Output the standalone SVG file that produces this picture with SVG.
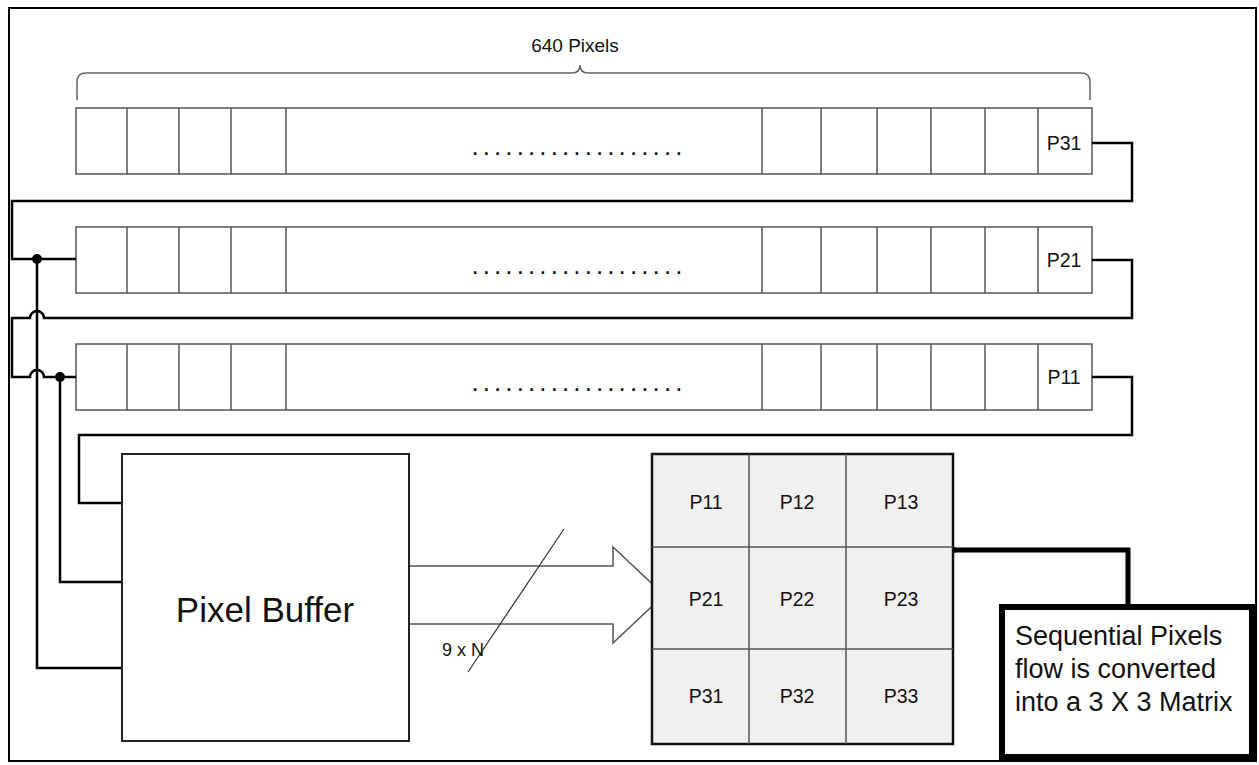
<svg xmlns="http://www.w3.org/2000/svg" width="1259" height="765" viewBox="0 0 1259 765">
<defs>
<style>
.frame{fill:none;stroke:#000;stroke-width:2}
.cell{fill:#fff;stroke:#555;stroke-width:1.5}
.div{stroke:#555;stroke-width:1.5}
.wire{fill:none;stroke:#000;stroke-width:2.5}
.bold{fill:none;stroke:#000;stroke-width:5}
.t{font-family:"Liberation Sans",Arial,sans-serif;fill:#111}
.lbl{font-size:19.5px;text-anchor:middle}
.dots{font-size:26px;letter-spacing:4.1px}
</style>
<g id="rowcells">
<rect class="cell" x="76" y="0" width="1016" height="66"/>
<line class="div" x1="127" y1="0" x2="127" y2="66"/>
<line class="div" x1="179" y1="0" x2="179" y2="66"/>
<line class="div" x1="231" y1="0" x2="231" y2="66"/>
<line class="div" x1="286" y1="0" x2="286" y2="66"/>
<line class="div" x1="762" y1="0" x2="762" y2="66"/>
<line class="div" x1="821" y1="0" x2="821" y2="66"/>
<line class="div" x1="877" y1="0" x2="877" y2="66"/>
<line class="div" x1="931" y1="0" x2="931" y2="66"/>
<line class="div" x1="985" y1="0" x2="985" y2="66"/>
<line class="div" x1="1038" y1="0" x2="1038" y2="66"/>
<text class="t dots" x="471.4" y="47">...................</text>
</g>
</defs>

<rect class="frame" x="9" y="8" width="1247" height="753"/>

<g id="width-brace">
<path d="M77,100 V82 Q77,73 86,73 H572 Q580,73 580,65 Q580,73 588,73 H1081 Q1090,73 1090,82 V100" fill="none" stroke="#666" stroke-width="1.5"/>
<text class="t" x="575" y="52" font-size="19" text-anchor="middle">640 Pixels</text>
</g>

<g id="row1">
<use href="#rowcells" y="108"/>
<text class="t lbl" x="1064" y="150">P31</text>
</g>
<g id="row2">
<use href="#rowcells" y="227"/>
<text class="t lbl" x="1064" y="267">P21</text>
</g>
<g id="row3">
<use href="#rowcells" y="344"/>
<text class="t lbl" x="1064" y="384">P11</text>
</g>

<g id="connectors">
<path class="wire" d="M1092,143 H1132 V201 H12 V259 H76"/>
<path class="wire" d="M1092,260 H1132 V318 H44 A7,7 0 0 0 30,318 H12 V377 H30 A7,7 0 0 1 44,377 H76"/>
<path class="wire" d="M1092,377 H1132 V435 H79 V503 H122"/>
<path class="wire" d="M37,259 V668 H122"/>
<path class="wire" d="M60,377 V582 H122"/>
<circle cx="37" cy="259" r="5" fill="#000"/>
<circle cx="60" cy="377" r="5" fill="#000"/>
<polygon points="409,566 613,566 613,547 664,595 613,643 613,624 409,624" fill="#fff" stroke="#555" stroke-width="1.5"/>
<line x1="564" y1="529" x2="468" y2="672" stroke="#333" stroke-width="1.2"/>
<text class="t" x="442" y="656" font-size="18">9 x N</text>
<path class="bold" d="M953,550 H1128 V607"/>
<circle cx="954" cy="550" r="3" fill="#000"/>
</g>

<g id="pixel-buffer">
<rect x="122" y="454" width="287" height="287" fill="#fff" stroke="#222" stroke-width="2"/>
<text class="t" x="265" y="622" font-size="35" text-anchor="middle">Pixel Buffer</text>
</g>

<g id="matrix">
<rect x="652" y="454" width="301" height="290" fill="#f0f0f0" stroke="#111" stroke-width="2.5"/>
<line class="div" x1="749" y1="454" x2="749" y2="744"/>
<line class="div" x1="846" y1="454" x2="846" y2="744"/>
<line class="div" x1="652" y1="547" x2="953" y2="547"/>
<line class="div" x1="652" y1="649" x2="953" y2="649"/>
<text class="t lbl" x="706" y="509">P11</text>
<text class="t lbl" x="797" y="509">P12</text>
<text class="t lbl" x="901" y="509">P13</text>
<text class="t lbl" x="706" y="606">P21</text>
<text class="t lbl" x="797" y="606">P22</text>
<text class="t lbl" x="901" y="606">P23</text>
<text class="t lbl" x="706" y="703">P31</text>
<text class="t lbl" x="797" y="703">P32</text>
<text class="t lbl" x="901" y="703">P33</text>
</g>

<g id="note">
<rect x="1002" y="607" width="250" height="150" fill="#fff" stroke="#000" stroke-width="6"/>
<text class="t" font-size="27"><tspan x="1015" y="645">Sequential Pixels</tspan><tspan x="1015" y="678">flow is converted</tspan><tspan x="1015" y="711">into a 3 X 3 Matrix</tspan></text>
</g>
</svg>
